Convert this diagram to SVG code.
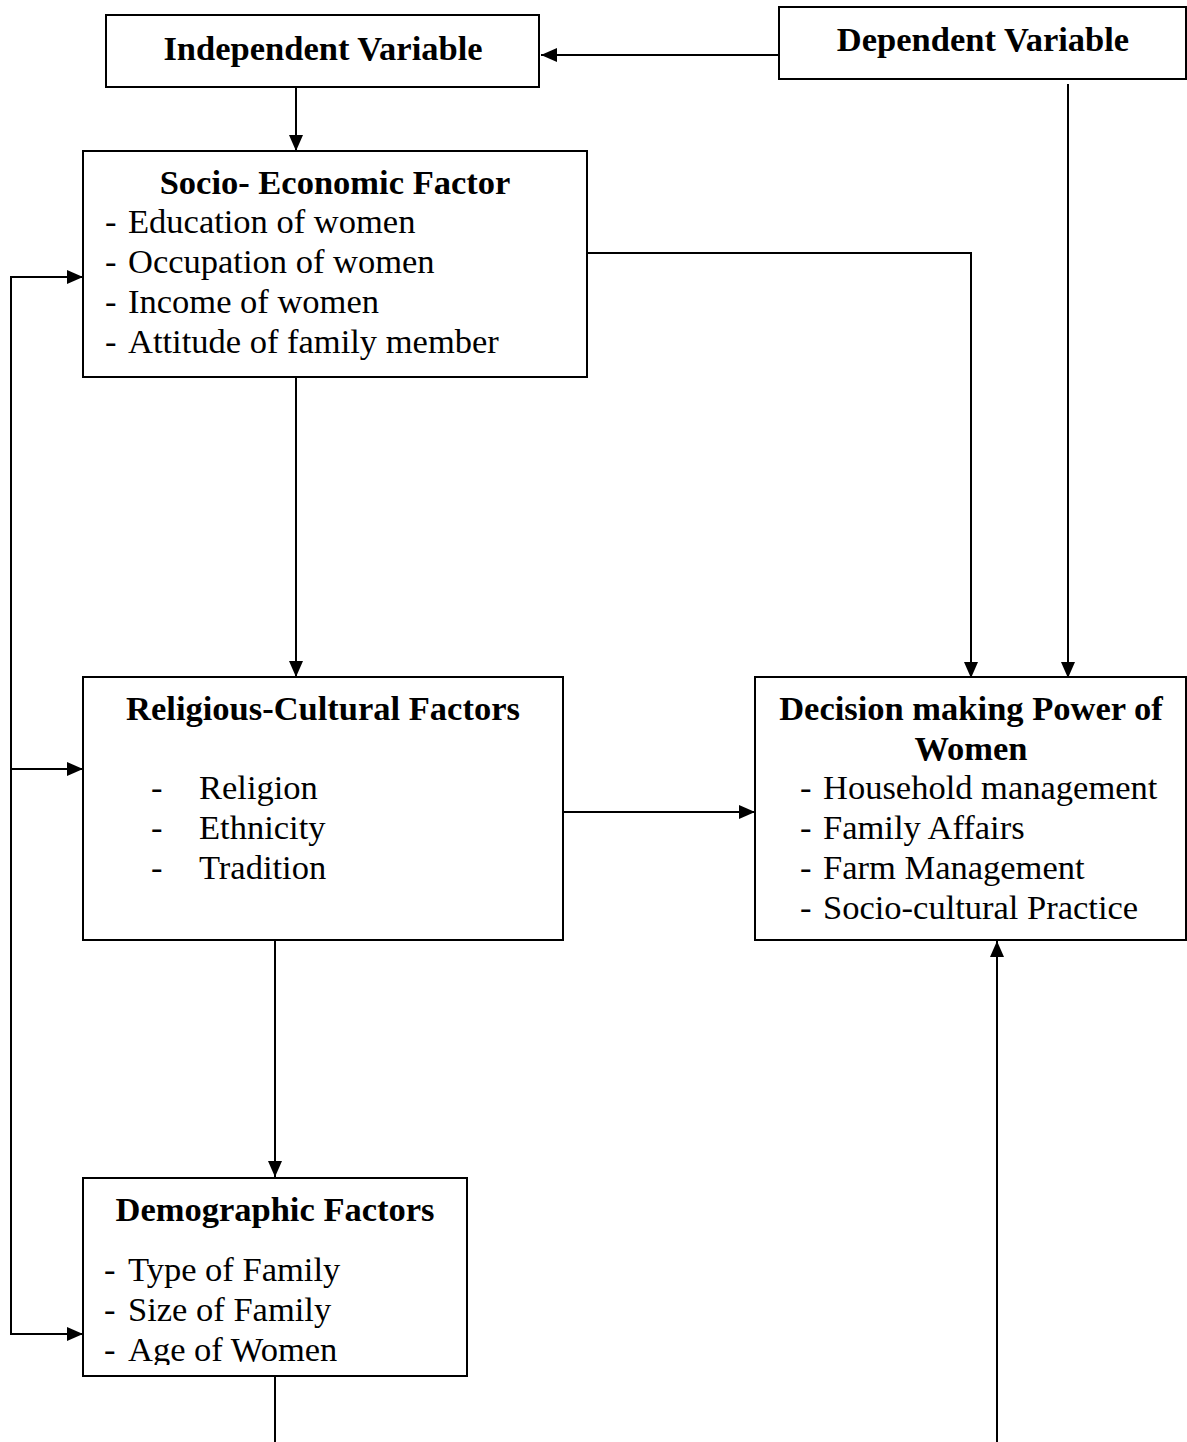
<svg xmlns="http://www.w3.org/2000/svg" width="1187" height="1442" viewBox="0 0 1187 1442">
<style>
.box{fill:#fff;stroke:#000;stroke-width:2}
.t{font-family:"Liberation Serif","Times New Roman",serif;font-size:34.5px;fill:#000}
.b{font-weight:bold;text-anchor:middle}
.c{fill:none;stroke:#000;stroke-width:2}
</style>
<defs>
<marker id="ah" markerUnits="userSpaceOnUse" markerWidth="16" markerHeight="14" refX="16" refY="7" orient="auto">
<path d="M0,0 L16,7 L0,14 Z" fill="#000"/>
</marker>
<clipPath id="clipAge"><rect x="83" y="1330" width="384" height="35"/></clipPath>
</defs>
<rect width="1187" height="1442" fill="#fff"/>
<g id="connectors">
<path class="c" d="M779,55 L541,55" marker-end="url(#ah)"/>
<path class="c" d="M1068,84 L1068,678" marker-end="url(#ah)"/>
<path class="c" d="M296,87 L296,151" marker-end="url(#ah)"/>
<path class="c" d="M587,253 L971,253 L971,678" marker-end="url(#ah)"/>
<path class="c" d="M296,377 L296,677" marker-end="url(#ah)"/>
<path class="c" d="M563,812 L755,812" marker-end="url(#ah)"/>
<path class="c" d="M275,940 L275,1177" marker-end="url(#ah)"/>
<path class="c" d="M275,1376 L275,1442"/>
<path class="c" d="M997,1442 L997,941" marker-end="url(#ah)"/>
<path class="c" d="M83,277 L11,277 L11,1334 L83,1334" marker-end="url(#ah)"/>
<path class="c" d="M11,277 L83,277" marker-end="url(#ah)"/>
<path class="c" d="M11,769 L83,769" marker-end="url(#ah)"/>
</g>
<g id="independent">
<rect class="box" x="106" y="15" width="433" height="72"/>
<text class="t b" x="323" y="60">Independent Variable</text>
</g>
<g id="dependent">
<rect class="box" x="779" y="7" width="407" height="72"/>
<text class="t b" x="983" y="51">Dependent Variable</text>
</g>
<g id="socio">
<rect class="box" x="83" y="151" width="504" height="226"/>
<text class="t b" x="335" y="194">Socio- Economic Factor</text>
<text class="t" x="105" y="233">-</text><text class="t" x="128" y="233">Education of women</text>
<text class="t" x="105" y="273">-</text><text class="t" x="128" y="273">Occupation of women</text>
<text class="t" x="105" y="313">-</text><text class="t" x="128" y="313">Income of women</text>
<text class="t" x="105" y="353">-</text><text class="t" x="128" y="353">Attitude of family member</text>
</g>
<g id="religious">
<rect class="box" x="83" y="677" width="480" height="263"/>
<text class="t b" x="323" y="720">Religious-Cultural Factors</text>
<text class="t" x="151" y="799">-</text><text class="t" x="199" y="799">Religion</text>
<text class="t" x="151" y="839">-</text><text class="t" x="199" y="839">Ethnicity</text>
<text class="t" x="151" y="879">-</text><text class="t" x="199" y="879">Tradition</text>
</g>
<g id="decision">
<rect class="box" x="755" y="677" width="431" height="263"/>
<text class="t b" x="971" y="720">Decision making Power of</text>
<text class="t b" x="971" y="760">Women</text>
<text class="t" x="800" y="799">-</text><text class="t" x="823" y="799">Household management</text>
<text class="t" x="800" y="839">-</text><text class="t" x="823" y="839">Family Affairs</text>
<text class="t" x="800" y="879">-</text><text class="t" x="823" y="879">Farm Management</text>
<text class="t" x="800" y="919">-</text><text class="t" x="823" y="919">Socio-cultural Practice</text>
</g>
<g id="demographic">
<rect class="box" x="83" y="1178" width="384" height="198"/>
<text class="t b" x="275" y="1221">Demographic Factors</text>
<text class="t" x="104" y="1281">-</text><text class="t" x="128" y="1281">Type of Family</text>
<text class="t" x="104" y="1321">-</text><text class="t" x="128" y="1321">Size of Family</text>
<g clip-path="url(#clipAge)"><text class="t" x="104" y="1361">-</text><text class="t" x="128" y="1361">Age of Women</text></g>
</g>
</svg>
